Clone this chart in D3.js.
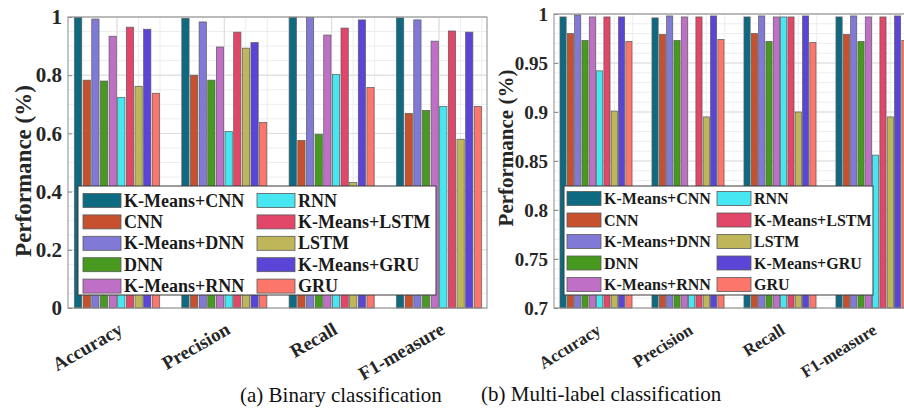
<!DOCTYPE html>
<html>
<head>
<meta charset="utf-8">
<script src="https://cdn.jsdelivr.net/npm/d3@7/dist/d3.min.js"></script>
<style>
  html, body { margin: 0; padding: 0; background: #fff; }
  svg { display: block; }
  text { font-family: "Liberation Serif", "Times New Roman", serif; }
</style>
</head>
<body>
<svg id="chart" width="904" height="414"></svg>
<script>
// Metrics on the x axis and the ten compared models
const metrics = ["Accuracy", "Precision", "Recall", "F1-measure"];
const models = ["K-Means+CNN", "CNN", "K-Means+DNN", "DNN", "K-Means+RNN",
                "RNN", "K-Means+LSTM", "LSTM", "K-Means+GRU", "GRU"];
const modelColors = ["#0e6a80", "#c7502f", "#8079d5", "#47991f", "#c06fc7",
                     "#46e6f2", "#e2476a", "#bfb65a", "#5a45d6", "#fc766b"];

// (a) Binary classification, one array per metric, in model order
const binaryAccuracy  = [0.998, 0.783, 0.993, 0.780, 0.934, 0.724, 0.965, 0.762, 0.958, 0.738];
const binaryPrecision = [0.995, 0.800, 0.983, 0.783, 0.897, 0.607, 0.948, 0.893, 0.912, 0.638];
const binaryRecall    = [0.999, 0.576, 0.998, 0.597, 0.938, 0.803, 0.962, 0.431, 0.990, 0.758];
const binaryF1        = [0.997, 0.669, 0.990, 0.679, 0.917, 0.693, 0.952, 0.580, 0.948, 0.693];

// (b) Multi-label classification
const multiAccuracy  = [0.997, 0.980, 0.999, 0.973, 0.997, 0.942, 0.997, 0.901, 0.997, 0.972];
const multiPrecision = [0.996, 0.979, 0.998, 0.973, 0.997, 0.800, 0.997, 0.895, 0.998, 0.974];
const multiRecall    = [0.997, 0.980, 0.998, 0.972, 0.997, 0.997, 0.997, 0.900, 0.998, 0.971];
const multiF1        = [0.997, 0.979, 0.998, 0.972, 0.997, 0.856, 0.997, 0.895, 0.998, 0.973];

// Tick values for each panel
const binaryTicks = [0, 0.2, 0.4, 0.6, 0.8, 1];
const multiTicks  = [0.7, 0.75, 0.8, 0.85, 0.9, 0.95, 1];

const svg = d3.select("#chart");

function drawPanel(cfg) {
  const g = svg.append("g");
  const { left, right, top, bottom } = cfg.frame;

  const x = d3.scalePoint().domain(metrics).range(cfg.centers);
  const step = (cfg.centers[1] - cfg.centers[0]) / (metrics.length - 1);
  const inner = d3.scaleBand().domain(models)
    .range([-cfg.groupWidth / 2, cfg.groupWidth / 2]).paddingInner(0.16);
  const y = d3.scaleLinear().domain(cfg.yDomain).range([bottom, top]);

  // grid (minor then major), drawn inside the frame
  const grid = g.append("g");
  const yMinor = d3.range(cfg.yDomain[0], cfg.yDomain[1] + 1e-9, cfg.minorY);
  grid.selectAll("line.hmin").data(yMinor).join("line")
    .attr("x1", left).attr("x2", right)
    .attr("y1", d => y(d)).attr("y2", d => y(d))
    .attr("stroke", "#ededed").attr("stroke-width", 1);
  const xMinor = [];
  for (let v = -10; v <= 30; v++) {
    const px = cfg.centers[0] + v * step / 5;
    if (px > left && px < right) xMinor.push(px);
  }
  grid.selectAll("line.vmin").data(xMinor).join("line")
    .attr("x1", d => d).attr("x2", d => d)
    .attr("y1", top).attr("y2", bottom)
    .attr("stroke", "#ededed").attr("stroke-width", 1);
  grid.selectAll("line.hmaj").data(cfg.ticks).join("line")
    .attr("x1", left).attr("x2", right)
    .attr("y1", d => y(d)).attr("y2", d => y(d))
    .attr("stroke", "#dcdcdc").attr("stroke-width", 1);
  grid.selectAll("line.vmaj").data(metrics).join("line")
    .attr("x1", d => x(d)).attr("x2", d => x(d))
    .attr("y1", top).attr("y2", bottom)
    .attr("stroke", "#dcdcdc").attr("stroke-width", 1);

  // grouped bars
  const groups = g.append("g").selectAll("g").data(metrics).join("g")
    .attr("transform", d => `translate(${x(d)},0)`);
  groups.selectAll("rect")
    .data((m, mi) => models.map((name, i) => ({ name, i, value: cfg.values[mi][i] })))
    .join("rect")
    .attr("x", d => inner(d.name))
    .attr("width", inner.bandwidth())
    .attr("y", d => y(d.value))
    .attr("height", d => bottom - y(d.value))
    .attr("fill", d => modelColors[d.i])
    .attr("stroke", "#5a5a5a").attr("stroke-width", 0.7);

  // frame
  g.append("rect")
    .attr("x", left).attr("y", top)
    .attr("width", right - left).attr("height", bottom - top)
    .attr("fill", "none").attr("stroke", "#8c8c8c").attr("stroke-width", 1);

  // y axis ticks and labels
  const yAxis = d3.axisLeft(y).tickValues(cfg.ticks)
    .tickFormat(d3.format("~g")).tickSizeInner(-4).tickSizeOuter(0).tickPadding(6);
  const ya = g.append("g").attr("transform", `translate(${left},0)`).call(yAxis);
  ya.select(".domain").remove();
  ya.selectAll("line").attr("stroke", "#8c8c8c");
  ya.selectAll("text")
    .attr("font-size", cfg.tickFont).attr("font-weight", "bold")
    .attr("fill", "#262626")
    .attr("font-family", "Liberation Serif, serif");

  // x axis labels, slanted
  g.append("g").selectAll("text").data(metrics).join("text")
    .attr("transform", d => `translate(${x(d) + cfg.xLabelDx},${cfg.xLabelY}) rotate(${cfg.xAngle})`)
    .attr("text-anchor", "end")
    .attr("font-size", cfg.xFont).attr("font-weight", "bold")
    .attr("fill", "#262626")
    .text(d => d);

  // y axis title
  g.append("text")
    .attr("transform", `translate(${cfg.titleX},${cfg.titleY}) rotate(-90)`)
    .attr("text-anchor", "middle")
    .attr("dominant-baseline", "central")
    .attr("font-size", cfg.titleFont).attr("font-weight", "bold")
    .attr("fill", "#262626")
    .text("Performance (%)");

  // legend, two columns of five
  const L = cfg.legend;
  const lg = g.append("g");
  lg.append("rect")
    .attr("x", L.x).attr("y", L.y).attr("width", L.w).attr("height", L.h)
    .attr("fill", "#fff").attr("stroke", "#3a3a3a").attr("stroke-width", 1);
  const items = lg.selectAll("g").data(models).join("g")
    .attr("transform", (d, i) =>
      `translate(${i < 5 ? L.col1 : L.col2},${L.row0 + (i % 5) * L.rowStep})`);
  items.append("rect")
    .attr("x", 0).attr("y", -L.swH / 2).attr("width", L.swW).attr("height", L.swH)
    .attr("fill", (d, i) => modelColors[i])
    .attr("stroke", "#5a5a5a").attr("stroke-width", 0.8);
  items.append("text")
    .attr("x", L.swW + 3).attr("y", 0)
    .attr("dominant-baseline", "central")
    .attr("font-size", L.font).attr("font-weight", "bold")
    .attr("fill", "#1a1a1a")
    .text(d => d);

  // caption
  svg.append("text")
    .attr("x", cfg.caption.x).attr("y", cfg.caption.y)
    .attr("font-size", 21).attr("fill", "#111")
    .text(cfg.caption.text);
}

drawPanel({
  values: [binaryAccuracy, binaryPrecision, binaryRecall, binaryF1],
  frame: { left: 68, right: 487, top: 17, bottom: 308 },
  centers: [117, 439],
  groupWidth: 85,
  yDomain: [0, 1], ticks: binaryTicks, minorY: 0.05,
  tickFont: 21, xFont: 19, xAngle: -30, xLabelDx: 7, xLabelY: 333,
  titleFont: 23, titleX: 23, titleY: 171,
  legend: { x: 78, y: 186, w: 358, h: 109, col1: 83, col2: 257, row0: 200.5,
            rowStep: 21.4, swW: 38, swH: 14, font: 18 },
  caption: { x: 240, y: 402, text: "(a) Binary classification" }
});

drawPanel({
  values: [multiAccuracy, multiPrecision, multiRecall, multiF1],
  frame: { left: 554, right: 914, top: 14, bottom: 308 },
  centers: [596, 872],
  groupWidth: 72,
  yDomain: [0.7, 1], ticks: multiTicks, minorY: 0.01,
  tickFont: 19, xFont: 17, xAngle: -32, xLabelDx: 6, xLabelY: 333,
  titleFont: 21, titleX: 506, titleY: 148,
  legend: { x: 564, y: 186, w: 309, h: 109, col1: 567, col2: 717, row0: 198.5,
            rowStep: 21.5, swW: 34, swH: 14, font: 16 },
  caption: { x: 481, y: 401, text: "(b) Multi-label classification" }
});
</script>
</body>
</html>
